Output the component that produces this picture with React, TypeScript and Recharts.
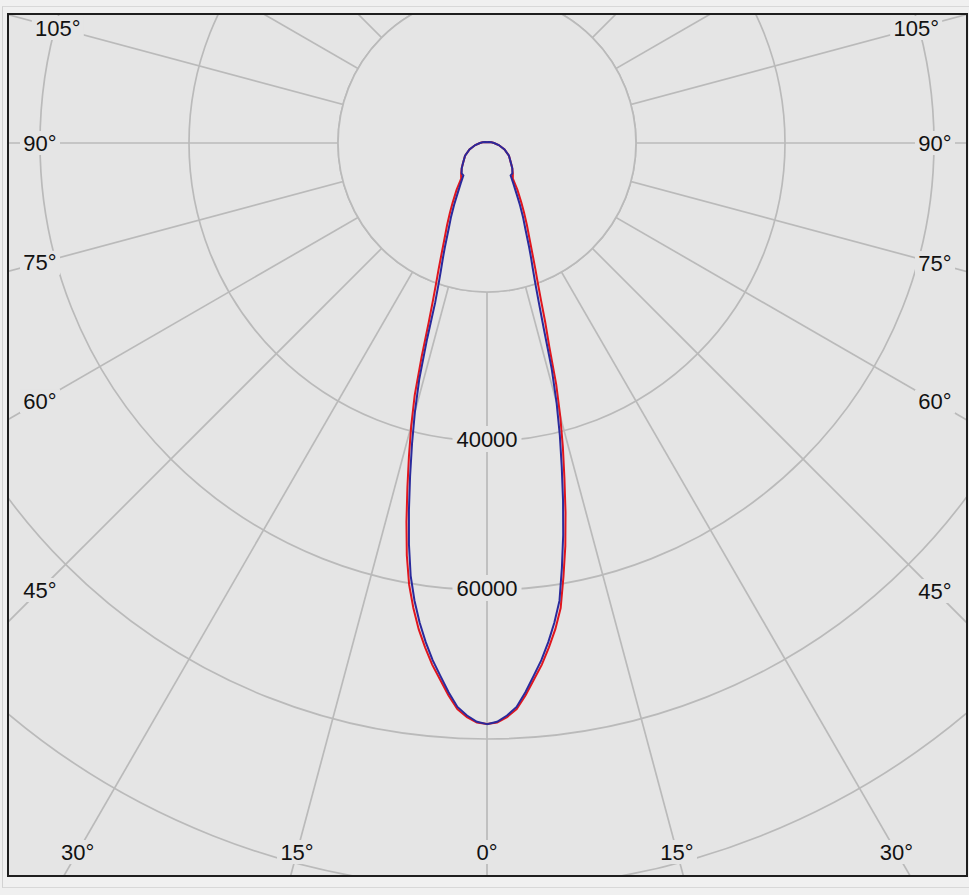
import React from 'react';
import { RadarChart, Radar, PolarGrid, PolarAngleAxis, PolarRadiusAxis } from 'recharts';

// gamma angles (deg from nadir) for one half plane
const halfAngles = [0, 1, 2, 3, 4, 5, 6, 7, 8, 9, 10, 11, 12, 13, 14, 15, 16, 17, 18, 19, 20, 21, 22, 24, 26, 28, 30, 33, 36, 40, 45, 50, 60, 70, 80, 90, 100, 120, 150, 180];

// candela values, left half (drawn 0 -> 180 going left)
const redLeft = [78000, 77800, 77100, 76100, 74300, 72300, 70400, 68200, 65900, 63200, 60200, 56400, 52000, 47500, 43300, 39300, 35200, 30000, 25300, 22200, 19900, 18100, 16500, 14000, 12200, 10600, 9200, 7500, 5900, 5400, 4800, 4200, 3400, 2500, 1600, 940, 600, 270, 130, 130];
const blueLeft = [78000, 77700, 76900, 75800, 73900, 71800, 69800, 67500, 65000, 62200, 59000, 54900, 50400, 45900, 41600, 37400, 33000, 27500, 22500, 19900, 18000, 16500, 15100, 12700, 11000, 9400, 8000, 6500, 5400, 5300, 4800, 4200, 3400, 2500, 1600, 940, 600, 270, 130, 130];
// right half (mirrored, 360 - gamma)
const redRight = [78000, 77800, 77100, 76100, 74300, 72300, 70400, 68200, 65900, 63200, 59100, 55100, 50700, 46200, 42100, 38000, 33700, 28600, 25300, 22200, 19900, 18100, 16500, 14000, 12200, 10600, 9200, 7500, 5900, 5400, 4800, 4200, 3400, 2500, 1600, 940, 600, 270, 130, 130];
const blueRight = [78000, 77700, 76900, 75800, 73900, 71800, 69800, 67500, 65000, 62200, 57900, 53600, 49100, 44600, 40400, 36100, 31500, 26100, 22500, 19900, 18000, 16500, 15100, 12700, 11000, 9400, 8000, 6500, 5400, 5300, 4800, 4200, 3400, 2500, 1600, 940, 600, 270, 130, 130];

const spokeTicks = [0, 15, 30, 45, 60, 75, 90, 105, 120, 135, 150, 165, 180, 195, 210, 225, 240, 255, 270, 285, 300, 315, 330, 345];
const radiusTicks = [20000, 40000, 60000, 80000, 100000, 120000];
const radiusLabels = [40000, 60000];
const maxLabelAngle = 105;

const rows = [
  ...halfAngles.map((a, i) => ({ angle: a, red: redLeft[i], blue: blueLeft[i] })),
  ...halfAngles
    .map((a, i) => ({ angle: 360 - a, red: redRight[i], blue: blueRight[i] }))
    .filter(r => r.angle > 180 && r.angle < 360)
    .reverse(),
];

const W = 957;
const H = 860;
const CX = 478;
const CY = 128;
const R_MAX = 120000;
const R_OUT = 894;
const PLOT_BG = '#e5e5e5';
const GRID = '#bababa';
const FONT = '"Liberation Sans", Arial, sans-serif';

// where tick labels sit (svg coords)
const LABEL_LEFT = 31;
const LABEL_RIGHT = 926;
const LABEL_BOTTOM = 837;
const LABEL_TOP = 13;

function AngleTick(props: any) {
  const { payload } = props;
  const v = payload.value;
  const shown = Math.min(v, 360 - v);
  if (shown > maxLabelAngle) return <g />;
  const rad = (-payload.coordinate * Math.PI) / 180;
  const ux = Math.cos(rad);
  const uy = Math.sin(rad);
  let t = Infinity;
  if (ux < -1e-6) t = Math.min(t, (LABEL_LEFT - CX) / ux);
  if (ux > 1e-6) t = Math.min(t, (LABEL_RIGHT - CX) / ux);
  if (uy > 1e-6) t = Math.min(t, (LABEL_BOTTOM - CY) / uy);
  if (uy < -1e-6) t = Math.min(t, (LABEL_TOP - CY) / uy);
  const x = CX + t * ux;
  const y = CY + t * uy;
  const text = `${shown}°`;
  const w = text.length * 12 + 4;
  return (
    <g>
      <rect x={x - w / 2} y={y - 12} width={w} height={24} fill={PLOT_BG} />
      <text x={x} y={y} textAnchor="middle" dominantBaseline="central" fill="#111" fontSize={22} fontFamily={FONT}>
        {text}
      </text>
    </g>
  );
}

function RadiusTick(props: any) {
  const { x, y, payload } = props;
  if (!radiusLabels.includes(payload.value)) return <g />;
  const text = String(payload.value);
  const w = text.length * 12.2 + 8;
  return (
    <g>
      <rect x={x - w / 2} y={y - 15} width={w} height={26} fill={PLOT_BG} />
      <text x={x} y={y - 2} textAnchor="middle" dominantBaseline="central" fill="#111" fontSize={22} fontFamily={FONT}>
        {text}
      </text>
    </g>
  );
}

export default function App() {
  const innerR = (R_OUT * radiusTicks[0]) / R_MAX;
  return (
    <div style={{ position: 'absolute', left: 0, top: 0, width: 969, height: 895, background: '#f0f0f0' }}>
      <div style={{ position: 'absolute', left: 2, top: 6, width: 967, height: 882, borderLeft: '1px solid #d2d2d2', borderTop: '1px solid #d8d8d8', borderBottom: '1px solid #d8d8d8', boxSizing: 'border-box' }} />
      <div
        style={{
          position: 'absolute',
          left: 7,
          top: 13,
          width: 961,
          height: 864,
          border: '2px solid #1e1e1e',
          boxSizing: 'border-box',
          background: PLOT_BG,
          overflow: 'hidden',
        }}
      >
        <RadarChart
          width={W}
          height={H}
          data={rows}
          cx={CX}
          cy={CY}
          outerRadius={R_OUT}
          startAngle={-90}
          endAngle={-450}
          margin={{ top: 0, right: 0, bottom: 0, left: 0 }}
        >
          <PolarGrid gridType="circle" stroke={GRID} strokeWidth={1.7} />
          <circle cx={CX} cy={CY} r={innerR} fill={PLOT_BG} stroke={GRID} strokeWidth={1.7} />
          <PolarAngleAxis
            dataKey="angle"
            type="number"
            domain={[0, 360]}
            ticks={spokeTicks}
            axisLine={false}
            tickLine={false}
            tick={AngleTick}
          />
          <PolarRadiusAxis
            angle={-90}
            domain={[0, R_MAX]}
            ticks={radiusTicks}
            axisLine={false}
            tickLine={false}
            tick={RadiusTick}
          />
          <Radar dataKey="red" stroke="#e0161e" strokeWidth={2} fill="none" fillOpacity={0} dot={false} isAnimationActive={false} />
          <Radar dataKey="blue" stroke="#2a2a9c" strokeWidth={2} fill="none" fillOpacity={0} dot={false} isAnimationActive={false} />
        </RadarChart>
      </div>
    </div>
  );
}
